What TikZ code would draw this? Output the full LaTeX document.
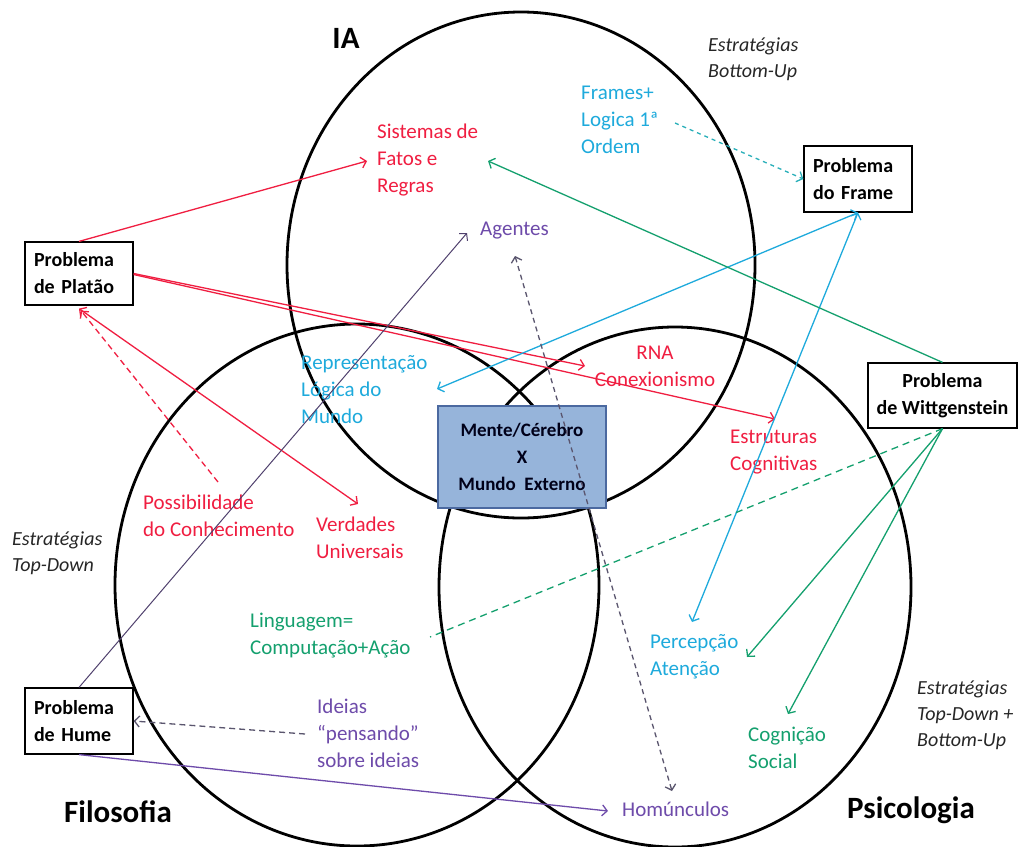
\documentclass[tikz,border=0pt]{standalone}
\usepackage{fontspec}
\setmainfont{Carlito}
\usetikzlibrary{arrows.meta}
\definecolor{cred}{RGB}{240,30,65}
\definecolor{ccyan}{RGB}{30,170,220}
\definecolor{cteal}{RGB}{40,175,185}
\definecolor{cgreen}{RGB}{20,160,110}
\definecolor{cpurple}{RGB}{110,75,170}
\definecolor{cdpurple}{RGB}{80,65,110}
\definecolor{cgray}{RGB}{90,85,110}
\definecolor{boxblue}{RGB}{150,180,218}
\definecolor{boxborder}{RGB}{75,105,160}
\begin{document}
\begin{tikzpicture}[x=1pt,y=-1pt,
  ring/.style={draw=black, line width=2.8pt},
  pbox/.style={draw=black, line width=1.2pt, fill=white, text=black,
    font=\fontsize{20}{27}\selectfont\bfseries, inner xsep=9pt, inner ysep=0pt},
  lbl/.style={font=\fontsize{21}{27}\selectfont, inner sep=0pt, align=left, anchor=west},
  strat/.style={lbl, font=\fontsize{20}{26}\selectfont\itshape, text=black!85},
  title/.style={font=\fontsize{31}{31}\selectfont\bfseries, inner sep=0pt},
  conn/.style={line width=1.3pt, -{Straight Barb[length=5pt,width=11pt]}},
  dconn/.style={line width=1.3pt, {Straight Barb[length=5pt,width=11pt]}-{Straight Barb[length=5pt,width=11pt]}},
]
\useasboundingbox (0,0) rectangle (1019,846);
\fill[white] (0,0) rectangle (1019,846);

% circles
\draw[ring] (521,265) ellipse [x radius=234, y radius=253];
\draw[ring] (357,585) ellipse [x radius=242, y radius=261];
\draw[ring] (675,587) ellipse [x radius=236, y radius=260];

% titles
\node[title] (tIA) at (346,38) {IA};
\node[title] (tFil) at (118,812) {Filosofia};
\node[title] (tPsi) at (911,810) {Psicologia};

% strategy labels
\node[strat] (eBU) at (708,59) {Estratégias\\Bottom-Up};
\node[strat] (eTD) at (12,553) {Estratégias\\Top-Down};
\node[strat] (eTDBU) at (917,715) {Estratégias\\Top-Down +\\Bottom-Up};

% colored labels
\node[lbl, text=cred] (sis) at (377,160) {Sistemas de\\Fatos e\\Regras};
\node[lbl, text=cred, align=center, anchor=center] (rna) at (655,366) {RNA\\Conexionismo};
\node[lbl, text=cred] (estr) at (730,452) {Estruturas\\Cognitivas};
\node[lbl, text=cred] (poss) at (143,516) {Possibilidade\\do Conhecimento};
\node[lbl, text=cred] (verd) at (316,538) {Verdades\\Universais};
\node[lbl, text=ccyan] (frames) at (581,120) {Frames+\\Logica 1ª\\Ordem};
\node[lbl, text=ccyan] (repr) at (301,390) {Representação\\Lógica do\\Mundo};
\node[lbl, text=ccyan] (perc) at (650,657) {Percepção\\Atenção};
\node[lbl, text=cgreen] (ling) at (250,636) {Linguagem=\\Computação+Ação};
\node[lbl, text=cgreen] (cogn) at (748,748) {Cognição\\Social};
\node[lbl, text=cpurple] (agentes) at (480,231) {Agentes};
\node[lbl, text=cpurple] (ideias) at (317,733) {Ideias\\“pensando”\\sobre ideias};
\node[lbl, text=cpurple] (homun) at (622,809) {Homúnculos};

% arrow end points
\coordinate (sisT) at (367,161);
\coordinate (rnaT) at (585,366);
\coordinate (estT) at (775,419);
\coordinate (verT) at (358,504);
\coordinate (possT) at (218,482);
\coordinate (frmS) at (675,123);
\coordinate (reprT) at (437,389);
\coordinate (percT) at (692,622);
\coordinate (sisG) at (488,161);
\coordinate (lingT) at (430,637);
\coordinate (percG) at (747,657);
\coordinate (cognT) at (788,714);
\coordinate (agT) at (467,233);
\coordinate (agD) at (515,256);
\coordinate (homD) at (672,791);
\coordinate (ideS) at (305,734);
\coordinate (homT) at (608,811);

% boxes
\node[pbox, text width=90pt, minimum height=63pt, align=left] (platao) at (79,273.5) {Problema\\de Platão};
\node[pbox, text width=90pt, minimum height=66pt, align=left] (frame) at (858,179) {Problema\\do Frame};
\node[pbox, minimum width=149pt, minimum height=65pt, inner xsep=3pt, align=center] (witt) at (942.5,395.5) {Problema\\de Wittgenstein};
\node[pbox, text width=90pt, minimum height=66pt, align=left] (hume) at (79,721) {Problema\\de Hume};
\node[draw=boxborder, line width=2pt, fill=boxblue, text=black!90!blue,
  font=\fontsize{19}{27}\selectfont\bfseries, align=center,
  minimum width=168pt, minimum height=102pt, inner sep=0pt] (mente) at (522,457)
  {Mente/Cérebro\\X\\Mundo\ \ Externo};

% red connectors
\draw[conn, cred] (platao.north) -- (sisT);
\draw[conn, cred] (platao.east) -- (rnaT);
\draw[conn, cred] ([yshift=-1pt]platao.east) -- (estT);
\draw[dconn, cred] ([yshift=-3pt]platao.south) -- (verT);
\draw[conn, cred, dash pattern=on 6pt off 4pt] (possT) -- ([xshift=2pt,yshift=-5pt]platao.south);

% cyan connectors
\draw[conn, cteal, dash pattern=on 4pt off 4pt] (frmS) -- (frame.west);
\draw[dconn, ccyan] (reprT) -- (frame.south);
\draw[dconn, ccyan] (percT) -- (frame.south);

% green connectors
\draw[conn, cgreen] (witt.north) -- (sisG);
\draw[cgreen, line width=1.3pt, dash pattern=on 7pt off 5pt] (witt.south) -- (lingT);
\draw[conn, cgreen] (witt.south) -- (percG);
\draw[conn, cgreen] (witt.south) -- (cognT);

% purple connectors
\draw[conn, cdpurple, line width=1pt] (hume.north) -- (agT);
\draw[dconn, cgray, dash pattern=on 5pt off 4pt] (agD) -- (homD);
\draw[conn, cgray, dash pattern=on 6pt off 4pt] (ideS) -- (hume.east);
\draw[conn, cpurple] (hume.south) -- (homT);
\end{tikzpicture}
\end{document}
